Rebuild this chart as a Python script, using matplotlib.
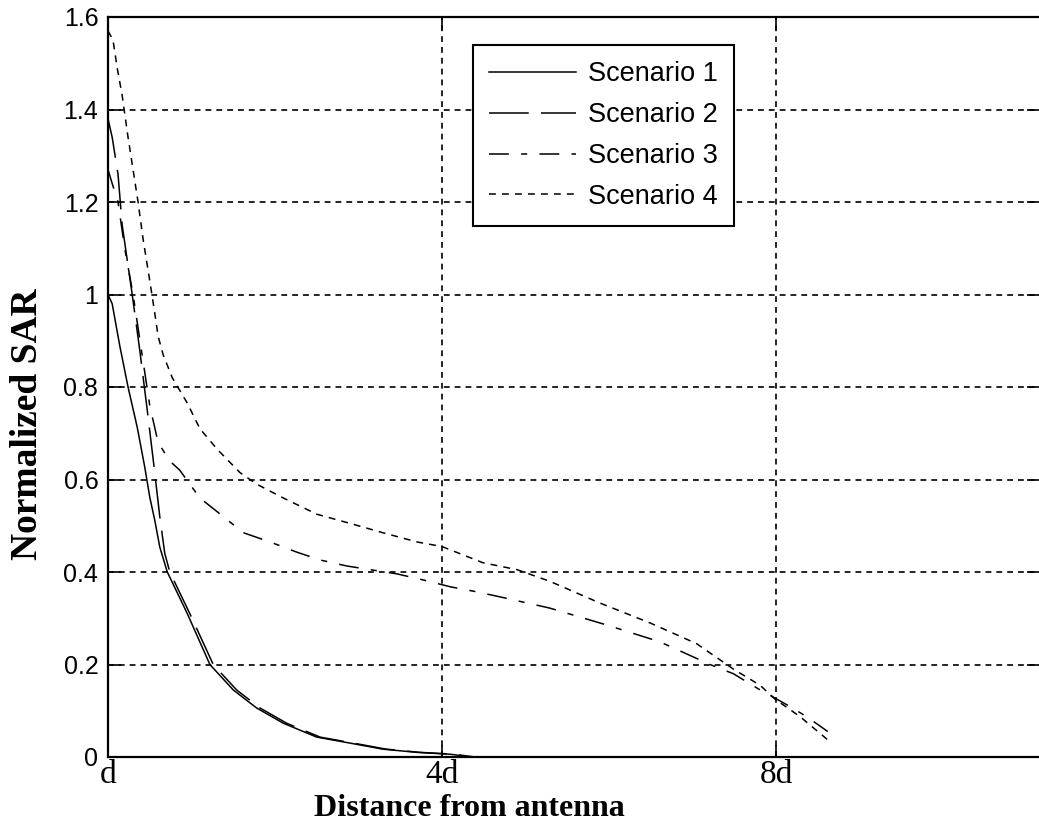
import matplotlib
matplotlib.use("Agg")
import matplotlib.pyplot as plt

# Data (x in units of the tick spacing: 0 -> d, 4 -> 4d, 8 -> 8d)
x_s1 = [0, 0.05, 0.14, 0.24, 0.35, 0.44, 0.50, 0.56, 0.62, 0.71, 0.95, 1.22, 1.50,
        1.78, 2.10, 2.50, 2.90, 3.29, 3.70, 4.10, 4.34, 8.62]
y_s1 = [1.00, 0.98, 0.89, 0.80, 0.713, 0.627, 0.562, 0.512, 0.454, 0.40, 0.31, 0.20, 0.145,
        0.106, 0.073, 0.043, 0.03, 0.017, 0.01, 0.006, 0.0, 0.0]

x_s2 = [0, 0.05, 0.12, 0.17, 0.29, 0.38, 0.47, 0.55, 0.62, 0.68, 0.74, 0.98, 1.26, 1.54,
        1.82, 2.14, 2.54, 2.94, 3.33, 3.74, 4.14, 4.40, 8.62]
y_s2 = [1.38, 1.34, 1.26, 1.15, 1.00, 0.88, 0.75, 0.63, 0.52, 0.44, 0.40, 0.31, 0.20, 0.145,
        0.106, 0.073, 0.043, 0.03, 0.017, 0.01, 0.006, 0.0, 0.0]

x_s3 = [0, 0.05, 0.12, 0.20, 0.30, 0.40, 0.50, 0.60, 0.74, 0.86, 1.10, 1.31, 1.62, 1.94,
        2.26, 2.54, 2.86, 3.46, 3.77, 4.10, 4.42, 4.70, 5.29, 5.98, 6.61, 7.21, 7.49,
        7.81, 8.13, 8.37, 8.62]
y_s3 = [1.27, 1.24, 1.20, 1.10, 1.00, 0.88, 0.76, 0.68, 0.64, 0.62, 0.56, 0.53, 0.485, 0.465,
        0.443, 0.426, 0.413, 0.396, 0.383, 0.368, 0.357, 0.346, 0.322, 0.285, 0.249, 0.20, 0.18,
        0.145, 0.113, 0.087, 0.055]

x_s4 = [0, 0.06, 0.11, 0.17, 0.24, 0.30, 0.36, 0.42, 0.50, 0.56, 0.60, 0.66, 0.77, 0.95,
        1.10, 1.31, 1.58, 1.78, 2.10, 2.50, 2.90, 3.29, 3.70, 4.00, 4.49, 4.90, 5.29, 5.89,
        6.49, 7.05, 7.49, 7.81, 7.99, 8.29, 8.62]
y_s4 = [1.57, 1.55, 1.49, 1.43, 1.34, 1.27, 1.20, 1.12, 1.03, 0.96, 0.91, 0.87, 0.82, 0.765,
        0.71, 0.665, 0.615, 0.59, 0.56, 0.525, 0.505, 0.485, 0.465, 0.455, 0.42, 0.405, 0.38,
        0.333, 0.29, 0.245, 0.19, 0.155, 0.125, 0.087, 0.037]

xticks = [0, 4, 8]
xtick_labels = ['d', '4d', '8d']
yticks = [0, 0.2, 0.4, 0.6, 0.8, 1, 1.2, 1.4, 1.6]
ytick_labels = ['0', '0.2', '0.4', '0.6', '0.8', '1', '1.2', '1.4', '1.6']

W, H = 1039, 823
fig = plt.figure(figsize=(W / 100, H / 100), dpi=100)
ax = fig.add_axes([108 / W, 66 / H, 931 / W, 740 / H])

ax.plot(x_s1, y_s1, color='black', lw=1.1, ls='-', label='Scenario 1')
ax.plot(x_s2, y_s2, color='black', lw=1.1, ls=(0, (26, 8)), label='Scenario 2')
ax.plot(x_s3, y_s3, color='black', lw=1.1, ls=(0, (13, 8, 4, 8)), label='Scenario 3')
ax.plot(x_s4, y_s4, color='black', lw=1.1, ls=(0, (4.5, 4)), label='Scenario 4')

ax.set_xlim(0, 931 / 83.5)
ax.set_ylim(0, 1.6)
ax.set_xticks(xticks)
ax.set_xticklabels(xtick_labels, fontfamily='Liberation Serif', fontsize=24)
ax.set_yticks(yticks)
ax.set_yticklabels(ytick_labels, fontfamily='Liberation Sans', fontsize=18)

ax.grid(True, color='black', lw=1.2, ls=(0, (3.5, 3)))
ax.tick_params(direction='in', length=9, width=1.2, top=True, right=True)
ax.tick_params(axis='y', pad=7)
ax.tick_params(axis='x', pad=2)
for s in ax.spines.values():
    s.set_linewidth(1.6)
ax.spines['right'].set_visible(False)

ax.set_xlabel('Distance from antenna', fontfamily='Liberation Serif',
              fontweight='bold', fontsize=23)
ax.xaxis.set_label_coords((469 - 108) / 931, -0.05)
ax.set_ylabel('Normalized SAR', fontfamily='Liberation Serif',
              fontweight='bold', fontsize=27)
ax.yaxis.set_label_coords(-0.068, 0.45)

leg = ax.legend(loc='upper left', bbox_to_anchor=(473 / W, 1 - 45 / H),
                bbox_transform=fig.transFigure, borderaxespad=0,
                fancybox=False, framealpha=1, edgecolor='black',
                prop={'family': 'Liberation Sans', 'size': 19.5},
                handlelength=3.2, handletextpad=0.45, labelspacing=0.55,
                borderpad=0.6)
leg.get_frame().set_linewidth(1.5)

fig.savefig('out.png', dpi=100)
